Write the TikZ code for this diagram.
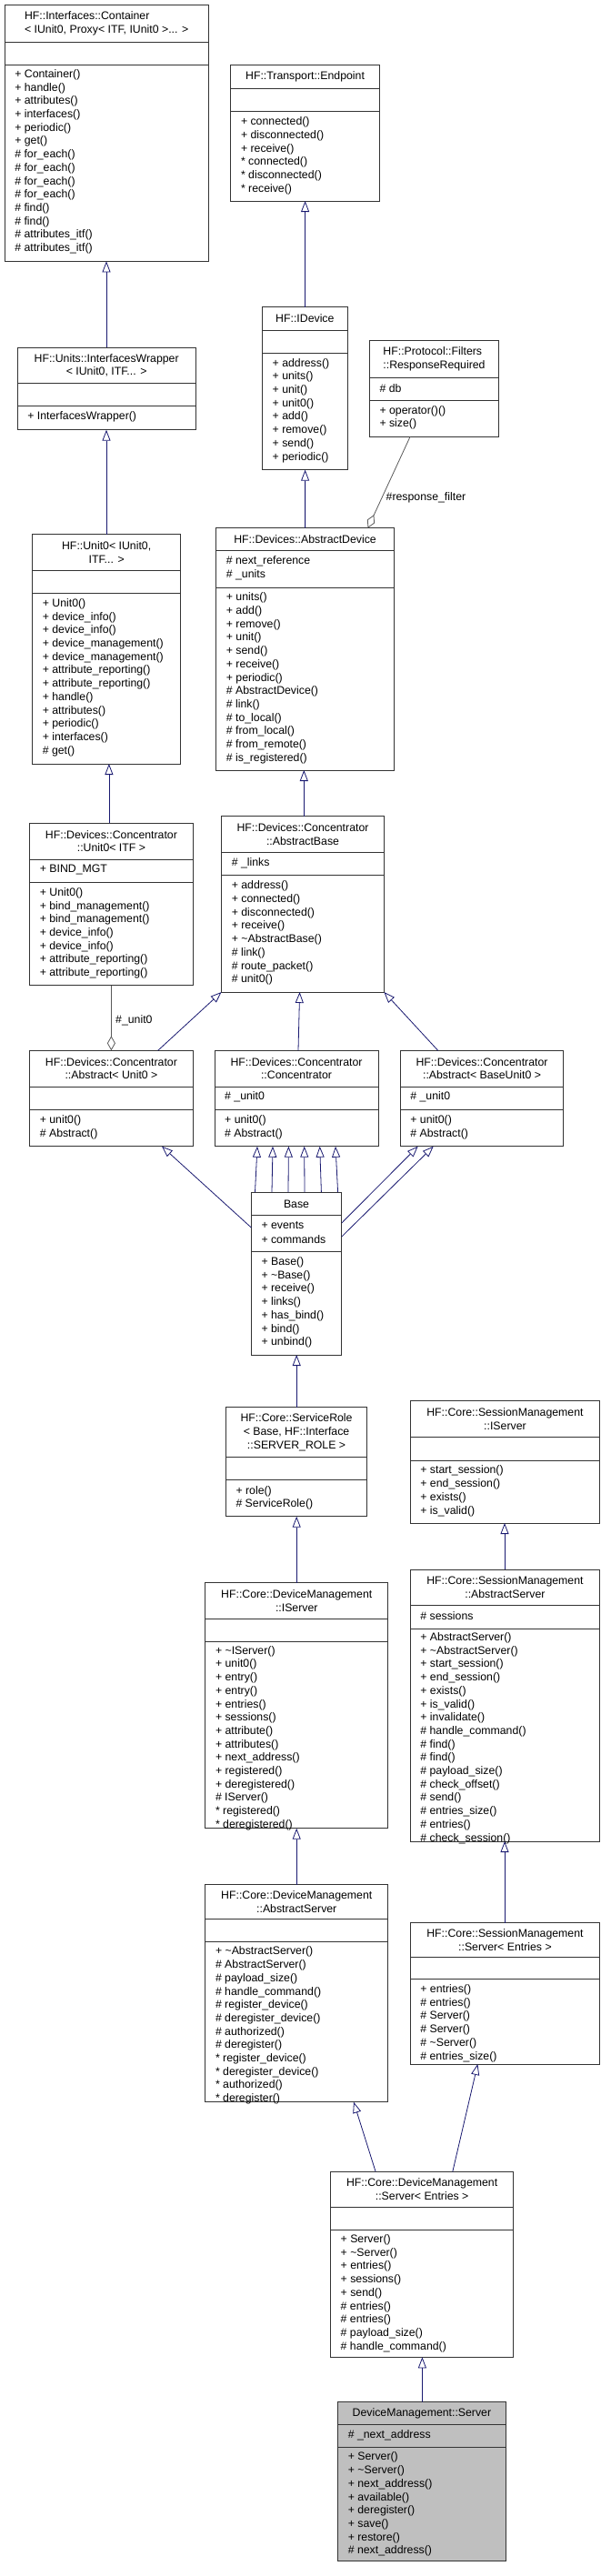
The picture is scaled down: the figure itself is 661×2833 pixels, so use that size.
\documentclass[tikz,border=0pt]{standalone}
\usepackage{fontspec}
\setmainfont{Liberation Sans}
\usetikzlibrary{arrows.meta,calc}
\begin{document}
\begin{tikzpicture}[x=1pt,y=-1pt,
  box/.style={draw=black!80,line width=0.9pt,anchor=north west,inner sep=0pt,outer sep=0pt},
  boxline/.style={draw=black!80,line width=0.9pt},
  txt/.style={inner sep=0pt,font=\fontsize{12.3}{14.7}\selectfont},
  mem/.style={txt,anchor=west},
  hdr/.style={txt,anchor=center},
  inh/.style={draw={rgb,255:red,25;green,25;blue,112},line width=0.8pt,-{Triangle[length=12pt,width=9pt,fill=white]}},
  agg/.style={draw=black!65,line width=0.8pt,-{Diamond[length=16pt,width=9pt,fill=white]}},
  lbl/.style={txt,anchor=west}]
\useasboundingbox (0,0) rectangle (661,2833);
\def\ufill{white}
\newcommand\ubox[9]{%
  \pgfmathsetmacro\uw{#3-#2}\pgfmathsetmacro\uh{#7-#4}%
  \node[box,fill=\ufill,minimum width=\uw pt,minimum height=\uh pt] (#1) at (#2,#4) {};
  \draw[boxline] (#2,#5) -- (#3,#5);
  \draw[boxline] (#2,#6) -- (#3,#6);
  \node[hdr,#8] (#1-h) at ({(#2+#3)/2},{(#4+#5)/2}) {#9};}
\newcommand\umem[4]{%
  \foreach \t [count=\i] in {#4} {\node[mem] (#1-m\i) at (#2+11,{#3+(\i-1)*14.7}) {\t};}}
\def\tl{\textasciitilde}

\ubox{cont}{5.1}{229.2}{5.7}{46}{71}{287.3}{align=left}{HF::Interfaces::Container\\< IUnit0, Proxy< ITF, IUnit0 >... >}
\umem{cont}{5.1}{82.3}{+ Container(),+ handle(),+ attributes(),+ interfaces(),+ periodic(),+ get(),\# for\_each(),\# for\_each(),\# for\_each(),\# for\_each(),\# find(),\# find(),\# attributes\_itf(),\# attributes\_itf()}

\ubox{ep}{253.8}{417.3}{71.7}{97.3}{122.7}{221}{}{HF::Transport::Endpoint}
\umem{ep}{253.8}{134.7}{+ connected(),+ disconnected(),+ receive(),* connected(),* disconnected(),* receive()}

\ubox{idev}{288.5}{382.2}{337.7}{363.3}{388.3}{516.7}{}{HF::IDevice}
\umem{idev}{288.5}{400}{+ address(),+ units(),+ unit(),+ unit0(),+ add(),+ remove(),+ send(),+ periodic()}

\ubox{rr}{406.3}{548.7}{374.7}{415}{440}{480}{align=left}{HF::Protocol::Filters\\::ResponseRequired}
\umem{rr-a}{406.3}{426.7}{\# db}
\umem{rr}{406.3}{452}{+ operator()(),+ size()}

\ubox{iw}{19.1}{215.2}{382}{421.7}{446.7}{472.7}{align=center}{HF::Units::InterfacesWrapper\\< IUnit0, ITF... >}
\umem{iw}{19.1}{458.3}{+ InterfacesWrapper()}

\ubox{u0}{35.6}{198.7}{587.7}{627.7}{652.7}{840}{align=center}{HF::Unit0< IUnit0,\\ITF... >}
\umem{u0}{35.6}{664.3}{+ Unit0(),+ device\_info(),+ device\_info(),+ device\_management(),+ device\_management(),+ attribute\_reporting(),+ attribute\_reporting(),+ handle(),+ attributes(),+ periodic(),+ interfaces(),\# get()}

\ubox{ad}{237.7}{433.4}{580.7}{605.3}{646}{847}{}{HF::Devices::AbstractDevice}
\umem{ad-a}{237.7}{617.7}{\# next\_reference,\# \_units}
\umem{ad}{237.7}{657.7}{+ units(),+ add(),+ remove(),+ unit(),+ send(),+ receive(),+ periodic(),\# AbstractDevice(),\# link(),\# to\_local(),\# from\_local(),\# from\_remote(),\# is\_registered()}

\ubox{cu}{32.6}{212.3}{905}{945}{970.7}{1083.7}{align=center}{HF::Devices::Concentrator\\::Unit0< ITF >}
\umem{cu-a}{32.6}{956.7}{+ BIND\_MGT}
\umem{cu}{32.6}{982.3}{+ Unit0(),+ bind\_management(),+ bind\_management(),+ device\_info(),+ device\_info(),+ attribute\_reporting(),+ attribute\_reporting()}

\ubox{ab}{243.6}{422.4}{897.7}{937.7}{962.7}{1091}{align=center}{HF::Devices::Concentrator\\::AbstractBase}
\umem{ab-a}{243.6}{949.3}{\# \_links}
\umem{ab}{243.6}{974.7}{+ address(),+ connected(),+ disconnected(),+ receive(),+ \tl AbstractBase(),\# link(),\# route\_packet(),\# unit0()}

\ubox{au}{32.6}{212.3}{1155.3}{1195}{1220.7}{1260.7}{align=center}{HF::Devices::Concentrator\\::Abstract< Unit0 >}
\umem{au}{32.6}{1232.7}{+ unit0(),\# Abstract()}

\ubox{cc}{236}{416}{1155.3}{1195}{1220.7}{1260.7}{align=center}{HF::Devices::Concentrator\\::Concentrator}
\umem{cc-a}{236}{1206.7}{\# \_unit0}
\umem{cc}{236}{1232.7}{+ unit0(),\# Abstract()}

\ubox{abu}{440.2}{619.9}{1155.3}{1195}{1220.7}{1260.7}{align=center}{HF::Devices::Concentrator\\::Abstract< BaseUnit0 >}
\umem{abu-a}{440.2}{1206.7}{\# \_unit0}
\umem{abu}{440.2}{1232.7}{+ unit0(),\# Abstract()}

\ubox{base}{276.3}{375.8}{1311}{1336.7}{1376.7}{1490}{}{Base}
\umem{base-a}{276.3}{1348}{+ events,+ commands}
\umem{base}{276.3}{1388.3}{+ Base(),+ \tl Base(),+ receive(),+ links(),+ has\_bind(),+ bind(),+ unbind()}

\ubox{sr}{248.3}{403.8}{1547.7}{1602.7}{1627.7}{1667.7}{align=center}{HF::Core::ServiceRole\\< Base, HF::Interface\\::SERVER\_ROLE >}
\umem{sr}{248.3}{1640}{+ role(),\# ServiceRole()}

\ubox{dmi}{225.8}{426.7}{1740.7}{1780.7}{1805}{2010.7}{align=center}{HF::Core::DeviceManagement\\::IServer}
\umem{dmi}{225.8}{1816}{+ \tl IServer(),+ unit0(),+ entry(),+ entry(),+ entries(),+ sessions(),+ attribute(),+ attributes(),+ next\_address(),+ registered(),+ deregistered(),\# IServer(),* registered(),* deregistered()}

\ubox{smi}{451.2}{659.7}{1540.7}{1580}{1606}{1675}{align=center}{HF::Core::SessionManagement\\::IServer}
\umem{smi}{451.2}{1617.7}{+ start\_session(),+ end\_session(),+ exists(),+ is\_valid()}

\ubox{sma}{451.2}{659.7}{1726}{1765.7}{1791}{2025}{align=center}{HF::Core::SessionManagement\\::AbstractServer}
\umem{sma-a}{451.2}{1777.3}{\# sessions}
\umem{sma}{451.2}{1801.3}{+ AbstractServer(),+ \tl AbstractServer(),+ start\_session(),+ end\_session(),+ exists(),+ is\_valid(),+ invalidate(),\# handle\_command(),\# find(),\# find(),\# payload\_size(),\# check\_offset(),\# send(),\# entries\_size(),\# entries(),\# check\_session()}

\ubox{dma}{225.8}{426.7}{2072.7}{2110.7}{2135}{2311.7}{align=center}{HF::Core::DeviceManagement\\::AbstractServer}
\umem{dma}{225.8}{2146.7}{+ \tl AbstractServer(),\# AbstractServer(),\# payload\_size(),\# handle\_command(),\# register\_device(),\# deregister\_device(),\# authorized(),\# deregister(),* register\_device(),* deregister\_device(),* authorized(),* deregister()}

\ubox{sms}{451.2}{659.7}{2114.7}{2152.7}{2176.7}{2270}{align=center}{HF::Core::SessionManagement\\::Server< Entries >}
\umem{sms}{451.2}{2188.3}{+ entries(),\# entries(),\# Server(),\# Server(),\# \tl Server(),\# entries\_size()}

\ubox{dms}{363.5}{564.8}{2388.3}{2427}{2452.3}{2592.3}{align=center}{HF::Core::DeviceManagement\\::Server< Entries >}
\umem{dms}{363.5}{2463.3}{+ Server(),+ \tl Server(),+ entries(),+ sessions(),+ send(),\# entries(),\# entries(),\# payload\_size(),\# handle\_command()}

\def\ufill{black!25}
\ubox{dmsrv}{371.6}{556.3}{2641.7}{2666.7}{2691.7}{2816.7}{}{DeviceManagement::Server}
\umem{dmsrv-a}{371.6}{2678.3}{\# \_next\_address}
\umem{dmsrv}{371.6}{2702.7}{+ Server(),+ \tl Server(),+ next\_address(),+ available(),+ deregister(),+ save(),+ restore(),\# next\_address()}

% connectors
\draw[inh] ([xshift=97.9pt]iw.north west) -- ([xshift=111.9pt]cont.south west);
\draw[inh] ([xshift=47.1pt]idev.north west) -- ([xshift=81.8pt]ep.south west);
\draw[inh] ([xshift=81.4pt]u0.north west) -- ([xshift=97.9pt]iw.south west);
\draw[inh] ([xshift=97.9pt]ad.north west) -- ([xshift=47.1pt]idev.south west);
\draw[agg] ([xshift=44.9pt]rr.south west) -- ([xshift=166.9pt]ad.north west);
\node[lbl] (lrf) at (424.5,547.7) {\#response\_filter};
\draw[inh] ([xshift=87.3pt]cu.north west) -- ([xshift=84.3pt]u0.south west);
\draw[inh] ([xshift=90.7pt]ab.north west) -- ([xshift=96.6pt]ad.south west);
\draw[agg] ([xshift=89.8pt]cu.south west) -- ([xshift=89.8pt]au.north west);
\node[lbl] (lu0) at (127,1122.7) {\#\_unit0};
\draw[inh] ([xshift=141.1pt]au.north west) -- (ab.south west);
\draw[inh] ([xshift=92pt]cc.north west) -- ([xshift=86pt]ab.south west);
\draw[inh] ([xshift=41.5pt]abu.north west) -- (ab.south east);
\draw[inh] ([yshift=-39pt]base.north west) -- ([xshift=145.4pt]au.south west);
\draw[inh] ([xshift=4.2pt]base.north west) -- ([xshift=47pt]cc.south west);
\draw[inh] ([xshift=22.7pt]base.north west) -- ([xshift=64pt]cc.south west);
\draw[inh] ([xshift=40.7pt]base.north west) -- ([xshift=81.4pt]cc.south west);
\draw[inh] ([xshift=58.7pt]base.north west) -- ([xshift=98.7pt]cc.south west);
\draw[inh] ([xshift=77.1pt]base.north west) -- ([xshift=115.7pt]cc.south west);
\draw[inh] ([xshift=95.3pt]base.north west) -- ([xshift=133pt]cc.south west);
\draw[inh] ([yshift=-34pt]base.north east) -- ([xshift=19.5pt]abu.south west);
\draw[inh] ([yshift=-49pt]base.north east) -- ([xshift=36.5pt]abu.south west);
\draw[inh] ([xshift=77.9pt]sr.north west) -- ([xshift=49.9pt]base.south west);
\draw[inh] ([xshift=100.4pt]dmi.north west) -- ([xshift=77.9pt]sr.south west);
\draw[inh] ([xshift=103.8pt]sma.north west) -- ([xshift=103.8pt]smi.south west);
\draw[inh] ([xshift=100.4pt]dma.north west) -- ([xshift=100.4pt]dmi.south west);
\draw[inh] ([xshift=103.8pt]sms.north west) -- ([xshift=103.8pt]sma.south west);
\draw[inh] ([xshift=49.6pt]dms.north west) -- ([xshift=163.2pt]dma.south west);
\draw[inh] ([xshift=134.3pt]dms.north west) -- ([xshift=74.2pt]sms.south west);
\draw[inh] ([xshift=92.8pt]dmsrv.north west) -- ([xshift=100.9pt]dms.south west);
\end{tikzpicture}
\end{document}
